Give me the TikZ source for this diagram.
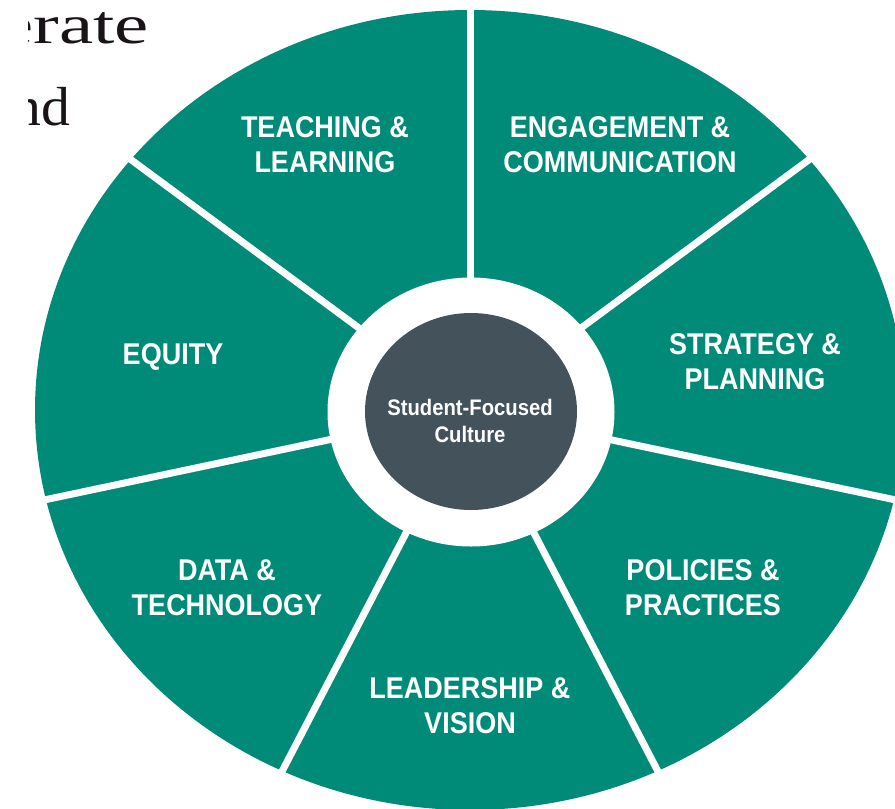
\documentclass[tikz,border=0pt]{standalone}
\usepackage{fontspec}
\usetikzlibrary{calc}
\setmainfont{Liberation Serif}
\newfontfamily\labelfont[FakeStretch=0.9]{Liberation Sans}
\definecolor{wheelgreen}{HTML}{008B79}
\definecolor{hubgray}{HTML}{44525C}
\definecolor{inkblack}{HTML}{1A1418}
\tikzset{
  seg/.style={draw=white, line width=7pt},
  seglabel/.style={text=white, align=center, inner sep=0pt,
    font=\labelfont\bfseries\fontsize{30}{35}\selectfont},
  hublabel/.style={text=white, align=center, inner sep=0pt,
    font=\labelfont\bfseries\fontsize{22.5}{27}\selectfont},
  pagetext/.style={text=inkblack, anchor=base west, inner sep=0pt,
    font=\fontsize{55}{60}\selectfont}
}
\begin{document}
\begin{tikzpicture}[x=1pt,y=-1pt]
\useasboundingbox (0,0) rectangle (895,809);
\clip (0,0) rectangle (895,809);
% page text fragments
\begin{scope}
  \clip (28,0) rectangle (300,140);
  \node[pagetext, xscale=1.4] (t1) at (-1,43) {erate};
  \node[pagetext, xscale=1.05] (t2) at (12,125) {nd};
\end{scope}
% wheel
\coordinate (c) at (470,410);
\fill[wheelgreen] (c) ellipse [x radius=435, y radius=400];
\foreach \i in {0,...,6}{
  \pgfmathsetmacro{\a}{90+\i*360/7}
  \coordinate (e\i) at ($(c)+({1.08*460*cos(\a)},{-460*sin(\a)})$);
  \draw[seg] (c) -- (e\i);
}
\fill[white] (471,412) ellipse [x radius=143.5, y radius=134.5];
\fill[hubgray] (471,411.5) ellipse [x radius=106, y radius=98.5];
\node[hublabel] (hub) at (470,421) {Student-Focused\\Culture};
\node[seglabel] (teach) at (325,145) {TEACHING \&\\LEARNING};
\node[seglabel] (engage) at (620,145) {ENGAGEMENT \&\\COMMUNICATION};
\node[seglabel] (strat) at (755,362) {STRATEGY \&\\PLANNING};
\node[seglabel] (equity) at (173,357) {EQUITY};
\node[seglabel] (data) at (227,588) {DATA \&\\TECHNOLOGY};
\node[seglabel] (lead) at (470,706) {LEADERSHIP \&\\VISION};
\node[seglabel] (policy) at (703,588) {POLICIES \&\\PRACTICES};
\end{tikzpicture}
\end{document}
